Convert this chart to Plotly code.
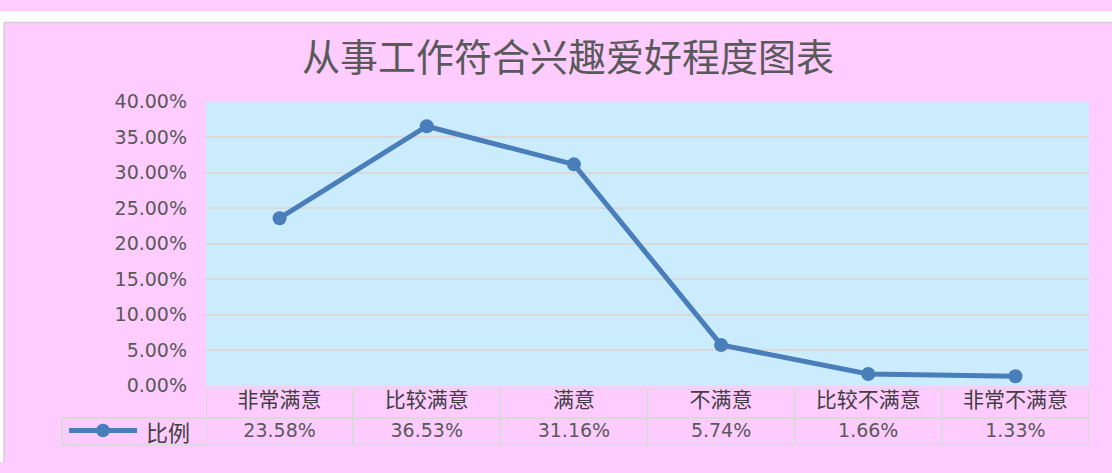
import plotly.graph_objects as go

# Survey: how well current work matches personal interests
categories = ["非常满意", "比较满意", "满意", "不满意", "比较不满意", "非常不满意"]
ratios = [23.58, 36.53, 31.16, 5.74, 1.66, 1.33]  # percent
series_name = "比例"
title_text = "从事工作符合兴趣爱好程度图表"
y_ticks = [0, 5, 10, 15, 20, 25, 30, 35, 40]

W, H = 1112, 473
LINE_BLUE = "#4a7ebb"
PINK = "#ffccff"
PLOT_BG = "#cbecfd"
GRID = "#d9d9d9"
TEXT = "#595959"
CJK = "Noto Sans CJK SC, Noto Sans, sans-serif"
LATIN = "DejaVu Sans, Verdana, sans-serif"


def px_x(p):
    return p / W


def px_y(p):
    return 1 - p / H


n = len(categories)
idx = list(range(n))
x_dom = [px_x(206), px_x(1089)]

fig = go.Figure()

# main line series
fig.add_trace(go.Scatter(
    x=idx, y=[v / 100 for v in ratios],
    mode="lines+markers",
    line=dict(color=LINE_BLUE, width=5),
    marker=dict(color=LINE_BLUE, size=14),
    name=series_name, showlegend=False, hoverinfo="skip",
    xaxis="x", yaxis="y",
))

# data table under the chart: category row and value row
TABLE_H = 59
ROW_SPLIT = 28
fig.add_trace(go.Scatter(
    x=idx, y=[45] * n, mode="text", text=categories,
    textfont=dict(family=CJK, size=21, color="#404040"),
    showlegend=False, hoverinfo="skip", xaxis="x2", yaxis="y2",
))
fig.add_trace(go.Scatter(
    x=idx, y=[13.5] * n, mode="text", text=[f"{v:.2f}%" for v in ratios],
    textfont=dict(family=LATIN, size=19, color=TEXT),
    showlegend=False, hoverinfo="skip", xaxis="x2", yaxis="y2",
))

shapes = []
# white strip along the top and left edge, with a thin frame line
shapes.append(dict(type="rect", xref="paper", yref="paper",
                   x0=0, x1=1, y0=px_y(12), y1=1,
                   fillcolor="white", line=dict(width=0)))
shapes.append(dict(type="rect", xref="paper", yref="paper",
                   x0=0, x1=px_x(4), y0=0, y1=1,
                   fillcolor="white", line=dict(width=0)))
shapes.append(dict(type="line", xref="paper", yref="paper",
                   x0=px_x(4), x1=1, y0=px_y(12), y1=px_y(12),
                   line=dict(color="#d0d0d0", width=1.5)))
shapes.append(dict(type="line", xref="paper", yref="paper",
                   x0=px_x(4), x1=px_x(4), y0=0, y1=px_y(12),
                   line=dict(color="#d0d0d0", width=1.5)))
# table area keeps the frame colour
shapes.append(dict(type="rect", xref="x2 domain", yref="y2 domain",
                   x0=0, x1=1, y0=0, y1=1, layer="below",
                   fillcolor=PINK, line=dict(width=0)))
# table grid lines
for k in range(n + 1):
    shapes.append(dict(type="line", xref="x2", yref="y2",
                       x0=k - 0.5, x1=k - 0.5, y0=0, y1=TABLE_H,
                       line=dict(color=GRID, width=2)))
for yy in (0, ROW_SPLIT, TABLE_H):
    shapes.append(dict(type="line", xref="x2", yref="y2",
                       x0=-0.5, x1=n - 0.5, y0=yy, y1=yy,
                       line=dict(color=GRID, width=2)))
# legend cell on the left of the value row
for yy in (427, 455):
    shapes.append(dict(type="line", xref="paper", yref="paper",
                       x0=px_x(62), x1=px_x(206), y0=px_y(yy), y1=px_y(yy),
                       line=dict(color=GRID, width=2)))
shapes.append(dict(type="line", xref="paper", yref="paper",
                   x0=px_x(62), x1=px_x(62), y0=px_y(427), y1=px_y(455),
                   line=dict(color=GRID, width=2)))
# legend key: line with marker
shapes.append(dict(type="line", xref="paper", yref="paper",
                   x0=px_x(69), x1=px_x(137), y0=px_y(440), y1=px_y(440),
                   line=dict(color=LINE_BLUE, width=5)))
shapes.append(dict(type="circle", xref="paper", yref="paper",
                   x0=px_x(96), x1=px_x(110), y0=px_y(447), y1=px_y(433),
                   fillcolor=LINE_BLUE, line=dict(color=LINE_BLUE, width=0)))

annotations = [
    dict(text=title_text, xref="paper", yref="paper",
         x=px_x(568), y=px_y(46), xanchor="center", yanchor="middle",
         showarrow=False,
         font=dict(family=CJK, size=38, color=TEXT)),
    dict(text=series_name, xref="paper", yref="paper",
         x=px_x(144), y=px_y(440), xanchor="left", yanchor="middle",
         showarrow=False,
         font=dict(family=CJK, size=22, color="#404040")),
]

fig.update_layout(
    width=W, height=H,
    margin=dict(l=0, r=0, t=0, b=0),
    paper_bgcolor=PINK,
    plot_bgcolor=PLOT_BG,
    shapes=shapes,
    annotations=annotations,
    xaxis=dict(domain=x_dom, range=[-0.5, n - 0.5], showticklabels=False,
               showgrid=False, zeroline=False, showline=False, fixedrange=True,
               anchor="y"),
    yaxis=dict(domain=[px_y(393), px_y(95)], range=[0, 0.4],
               tickvals=[t / 100 for t in y_ticks], tickformat=".2%",
               showgrid=True, gridcolor=GRID, gridwidth=1.5,
               zeroline=False, showline=False, ticks="",
               ticklabelstandoff=18,
               tickfont=dict(family=LATIN, size=19, color=TEXT),
               anchor="x"),
    xaxis2=dict(domain=x_dom, range=[-0.5, n - 0.5], visible=False,
                anchor="y2"),
    yaxis2=dict(domain=[px_y(455), px_y(396)], range=[0, TABLE_H],
                visible=False, anchor="x2"),
)

fig.write_html("out.html")
